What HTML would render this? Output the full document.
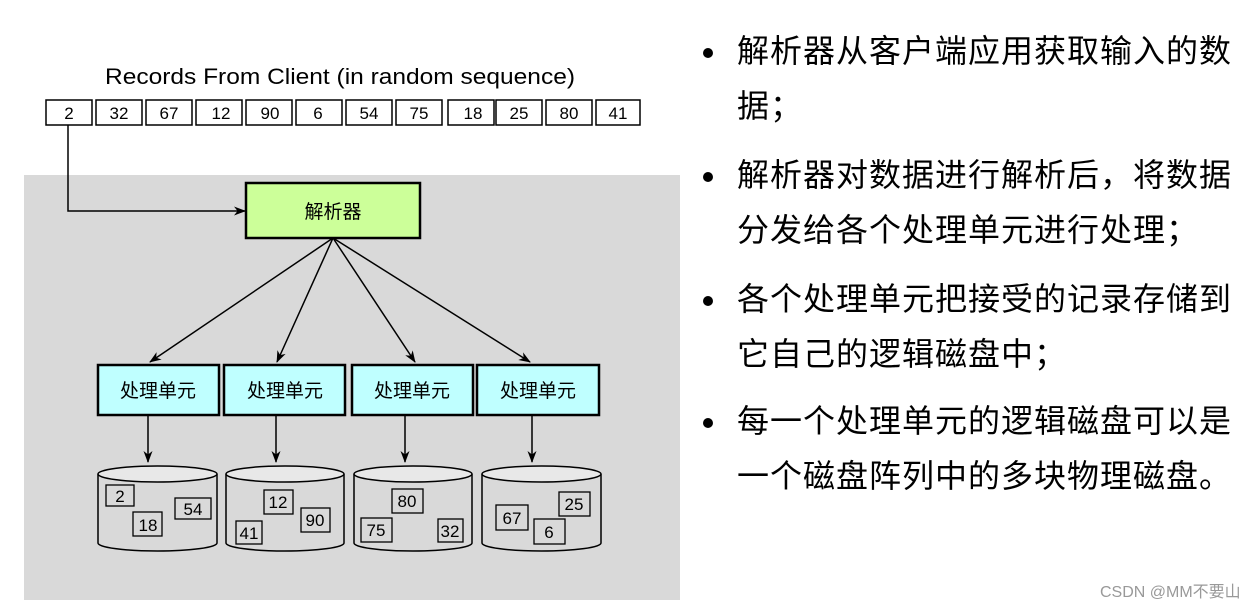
<!DOCTYPE html>
<html><head><meta charset="utf-8"><style>
html,body{margin:0;padding:0;background:#fff;width:1257px;height:608px;overflow:hidden}
svg{display:block}
.t{font-family:"Liberation Sans","Noto Sans CJK SC",sans-serif}
</style></head><body>
<svg width="1257" height="608" viewBox="0 0 1257 608" xmlns="http://www.w3.org/2000/svg" class="t">
<defs>
<marker id="ah" markerWidth="12" markerHeight="12" refX="11" refY="6" orient="auto" markerUnits="userSpaceOnUse">
<path d="M0,1.5 L12,6 L0,10.5 L3.5,6 z" fill="#000"/></marker>
</defs>
<rect x="24" y="175" width="656" height="425" fill="#d9d9d9"/>
<text x="105" y="84" font-size="22" textLength="470" lengthAdjust="spacingAndGlyphs" fill="#000">Records From Client (in random sequence)</text>
<g fill="#fff" stroke="#000" stroke-width="1.5">
<rect x="46" y="100" width="46" height="25"/><rect x="96" y="100" width="46" height="25"/>
<rect x="146" y="100" width="46" height="25"/><rect x="196" y="100" width="46" height="25"/>
<rect x="246" y="100" width="46" height="25"/><rect x="296" y="100" width="46" height="25"/>
<rect x="346" y="100" width="46" height="25"/><rect x="396" y="100" width="46" height="25"/>
<rect x="448" y="100" width="46" height="25"/><rect x="496" y="100" width="46" height="25"/>
<rect x="546" y="100" width="46" height="25"/><rect x="596" y="100" width="44" height="25"/>
</g>
<g font-size="17" text-anchor="middle">
<text x="69" y="119">2</text><text x="119" y="119">32</text><text x="169" y="119">67</text>
<text x="221" y="119">12</text><text x="270" y="119">90</text><text x="318" y="119">6</text>
<text x="369" y="119">54</text><text x="419" y="119">75</text><text x="473" y="119">18</text>
<text x="519" y="119">25</text><text x="569" y="119">80</text><text x="618" y="119">41</text>
</g>
<polyline points="68,125 68,211 245,211" fill="none" stroke="#000" stroke-width="1.5" marker-end="url(#ah)"/>
<rect x="246" y="183" width="174" height="55" fill="#ccff99" stroke="#000" stroke-width="2.5"/>
<text x="333" y="218" font-size="19" text-anchor="middle">解析器</text>
<g stroke="#000" stroke-width="1.5" marker-end="url(#ah)">
<line x1="333" y1="238" x2="150" y2="362"/>
<line x1="333" y1="238" x2="277" y2="362"/>
<line x1="333" y1="238" x2="415" y2="362"/>
<line x1="333" y1="238" x2="530" y2="362"/>
<line x1="148" y1="416" x2="148" y2="462"/>
<line x1="276" y1="416" x2="276" y2="462"/>
<line x1="405" y1="416" x2="405" y2="462"/>
<line x1="532" y1="416" x2="532" y2="462"/>
</g>
<g fill="#bfffff" stroke="#000" stroke-width="2.5">
<rect x="98" y="365" width="121" height="50"/><rect x="224" y="365" width="121" height="50"/>
<rect x="352" y="365" width="121" height="50"/><rect x="477" y="365" width="122" height="50"/>
</g>
<g font-size="19" text-anchor="middle">
<text x="158" y="397">处理单元</text><text x="285" y="397">处理单元</text>
<text x="412" y="397">处理单元</text><text x="538" y="397">处理单元</text>
</g>
<g fill="#d9d9d9" stroke="#000" stroke-width="1.5">
<path d="M98,474 L98,543 A59.5,8 0 0 0 217,543 L217,474"/>
<ellipse cx="157.5" cy="474" rx="59.5" ry="8" fill="#e8e8e8"/>
<path d="M226,474 L226,543 A59,8 0 0 0 344,543 L344,474"/>
<ellipse cx="285" cy="474" rx="59" ry="8" fill="#e8e8e8"/>
<path d="M354,474 L354,543 A59,8 0 0 0 472,543 L472,474"/>
<ellipse cx="413" cy="474" rx="59" ry="8" fill="#e8e8e8"/>
<path d="M482,474 L482,543 A59.5,8 0 0 0 601,543 L601,474"/>
<ellipse cx="541.5" cy="474" rx="59.5" ry="8" fill="#e8e8e8"/>
</g>
<g fill="#d9d9d9" stroke="#000" stroke-width="1.3">
<rect x="106" y="485" width="28" height="21"/><rect x="133" y="512" width="29" height="24"/><rect x="175" y="498" width="36" height="21"/>
<rect x="264" y="490" width="29" height="24"/><rect x="301" y="508" width="29" height="24"/><rect x="236" y="521" width="26" height="23"/>
<rect x="392" y="489" width="31" height="24"/><rect x="361" y="518" width="31" height="24"/><rect x="438" y="519" width="25" height="23"/>
<rect x="559" y="492" width="31" height="24"/><rect x="496" y="505" width="32" height="25"/><rect x="534" y="519" width="31" height="25"/>
</g>
<g font-size="17" text-anchor="middle">
<text x="120" y="502">2</text><text x="148" y="531">18</text><text x="193" y="515">54</text>
<text x="278" y="508">12</text><text x="315" y="526">90</text><text x="249" y="539">41</text>
<text x="407" y="507">80</text><text x="376" y="536">75</text><text x="450" y="537">32</text>
<text x="574" y="510">25</text><text x="512" y="524">67</text><text x="549" y="538">6</text>
</g>
<g font-size="32" letter-spacing="1" fill="#000">
<circle cx="708" cy="53" r="5"/><circle cx="708" cy="177" r="5"/><circle cx="708" cy="301" r="5"/><circle cx="708" cy="423" r="5"/>
<text x="737" y="62">解析器从客户端应用获取输入的数</text>
<text x="737" y="117">据；</text>
<text x="737" y="186">解析器对数据进行解析后，将数据</text>
<text x="737" y="241">分发给各个处理单元进行处理；</text>
<text x="737" y="310">各个处理单元把接受的记录存储到</text>
<text x="737" y="365">它自己的逻辑磁盘中；</text>
<text x="737" y="432">每一个处理单元的逻辑磁盘可以是</text>
<text x="737" y="487">一个磁盘阵列中的多块物理磁盘。</text>
</g>
<text x="1100" y="597" font-size="16" fill="#999">CSDN @MM不要山</text>
</svg>
</body></html>
